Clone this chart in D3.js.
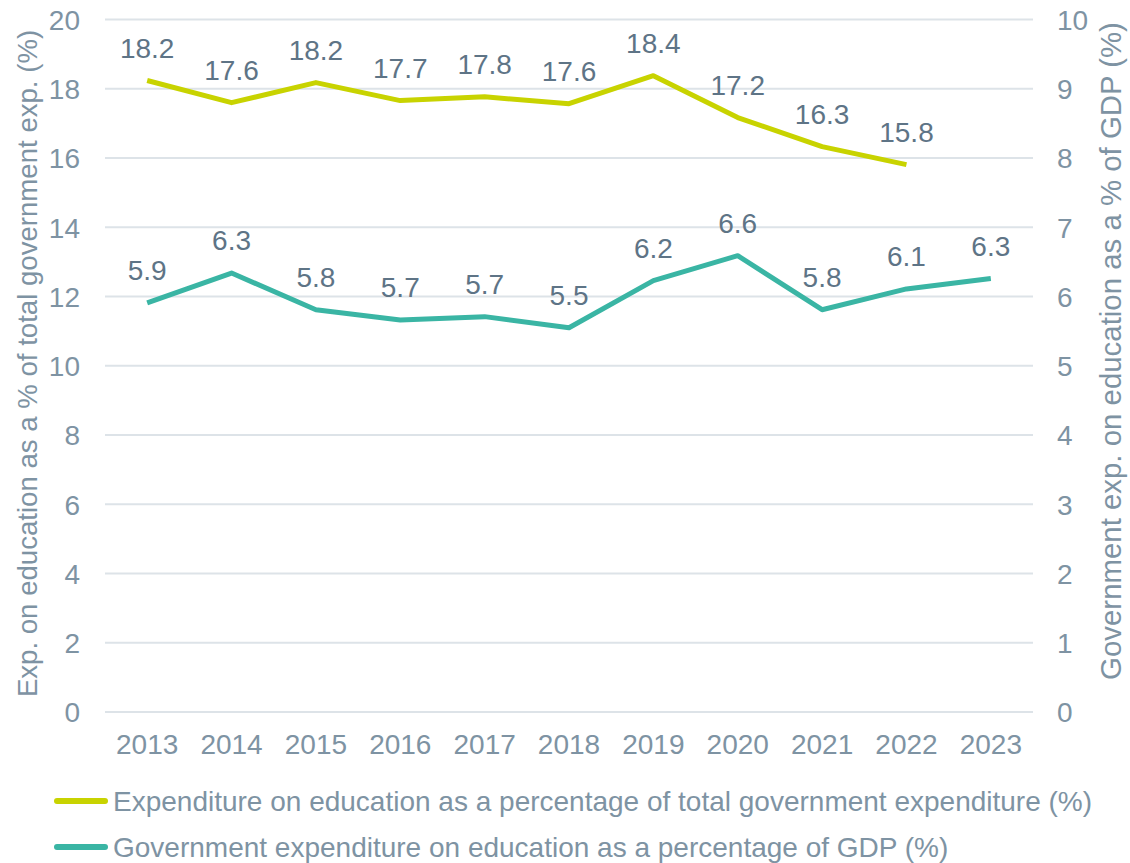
<!DOCTYPE html>
<html><head><meta charset="utf-8">
<script src="https://cdn.jsdelivr.net/npm/d3@7"></script>
<style>body{margin:0;background:#fff}svg{display:block}text{font-family:"Liberation Sans",Arial,sans-serif}</style>
</head><body>
<svg id="c" width="1130" height="863"></svg>
<script>
const years = ["2013","2014","2015","2016","2017","2018","2019","2020","2021","2022","2023"];
const pctTotalGov = [18.24, 17.6, 18.18, 17.66, 17.77, 17.57, 18.38, 17.17, 16.33, 15.81, null];
const pctGDP = [5.91, 6.34, 5.81, 5.66, 5.71, 5.55, 6.23, 6.59, 5.81, 6.11, 6.26];
const leftTicks = [0,2,4,6,8,10,12,14,16,18,20];
const rightTicks = [0,1,2,3,4,5,6,7,8,9,10];
const seriesNames = ["Expenditure on education as a percentage of total government expenditure (%)",
  "Government expenditure on education as a percentage of GDP (%)"];
const leftTitle = "Exp. on education as a % of total government exp. (%)";
const rightTitle = "Government exp. on education as a % of GDP (%)";

const colY = "#c8d300", colT = "#3ab5a4", axisCol = "#7e93a3", labelCol = "#5e7486", gridCol = "#dde3e8";
const svg = d3.select("#c");
const L = 105, R = 1033, T = 19.6, B = 712;
const x = d3.scaleBand().domain(years).range([L, R]);
const yL = d3.scaleLinear().domain([0, 20]).range([B, T]);
const yR = d3.scaleLinear().domain([0, 10]).range([B, T]);
const fs = 28;

// gridlines
svg.append("g").selectAll("line").data(leftTicks).join("line")
  .attr("x1", L).attr("x2", R).attr("y1", d => yL(d)).attr("y2", d => yL(d))
  .attr("stroke", gridCol).attr("stroke-width", 2);

// left axis
const gl = svg.append("g").attr("transform", `translate(${L},0)`)
  .call(d3.axisLeft(yL).tickValues(leftTicks).tickSize(0).tickPadding(25));
gl.select(".domain").remove();
gl.selectAll("text").attr("fill", axisCol).style("font-size", fs + "px").attr("dy", "0.35em");

// right axis
const gr = svg.append("g").attr("transform", `translate(${R},0)`)
  .call(d3.axisRight(yR).tickValues(rightTicks).tickSize(0).tickPadding(24));
gr.select(".domain").remove();
gr.selectAll("text").attr("fill", axisCol).style("font-size", fs + "px").attr("dy", "0.35em");

// x axis
const gx = svg.append("g").attr("transform", `translate(0,${B})`)
  .call(d3.axisBottom(x).tickSize(0).tickPadding(22));
gx.select(".domain").remove();
gx.selectAll("text").attr("fill", axisCol).style("font-size", fs + "px").attr("dy", "0.71em");

// axis titles
svg.append("text").attr("transform", `translate(37,${(705 + 22) / 2}) rotate(-90)`)
  .attr("text-anchor", "middle").attr("fill", axisCol).style("font-size", "27.6px").text(leftTitle);
svg.append("text").attr("transform", `translate(1121,${(680 + 22) / 2}) rotate(-90)`)
  .attr("text-anchor", "middle").attr("fill", axisCol).style("font-size", "29.4px").text(rightTitle);

const cx = d => x(d) + x.bandwidth() / 2;
const d1 = years.map((yr, i) => ({yr, v: pctTotalGov[i]})).filter(d => d.v != null);
const d2 = years.map((yr, i) => ({yr, v: pctGDP[i]}));

svg.append("path").datum(d1)
  .attr("d", d3.line().x(d => cx(d.yr)).y(d => yL(d.v)))
  .attr("fill", "none").attr("stroke", colY).attr("stroke-width", 5).attr("stroke-linejoin", "round");
svg.append("path").datum(d2)
  .attr("d", d3.line().x(d => cx(d.yr)).y(d => yR(d.v)))
  .attr("fill", "none").attr("stroke", colT).attr("stroke-width", 5).attr("stroke-linejoin", "round");

// data labels
svg.append("g").selectAll("text").data(d1).join("text")
  .attr("x", d => cx(d.yr)).attr("y", d => yL(d.v) - 23).attr("text-anchor", "middle")
  .attr("fill", labelCol).style("font-size", fs + "px").text(d => d.v.toFixed(1));
svg.append("g").selectAll("text").data(d2).join("text")
  .attr("x", d => cx(d.yr)).attr("y", d => yR(d.v) - 23).attr("text-anchor", "middle")
  .attr("fill", labelCol).style("font-size", fs + "px").text(d => d.v.toFixed(1));

// legend
const lg = svg.append("g").selectAll("g").data(seriesNames).join("g")
  .attr("transform", (d, i) => `translate(55,${801 + i * 46})`);
lg.append("line").attr("x1", 2).attr("x2", 50).attr("y1", 0).attr("y2", 0)
  .attr("stroke", (d, i) => i === 0 ? colY : colT).attr("stroke-width", 6).attr("stroke-linecap", "round");
lg.append("text").attr("x", 58).attr("y", 0).attr("dy", "0.35em")
  .attr("fill", axisCol).style("font-size", fs + "px").text(d => d);
</script>
</body></html>
